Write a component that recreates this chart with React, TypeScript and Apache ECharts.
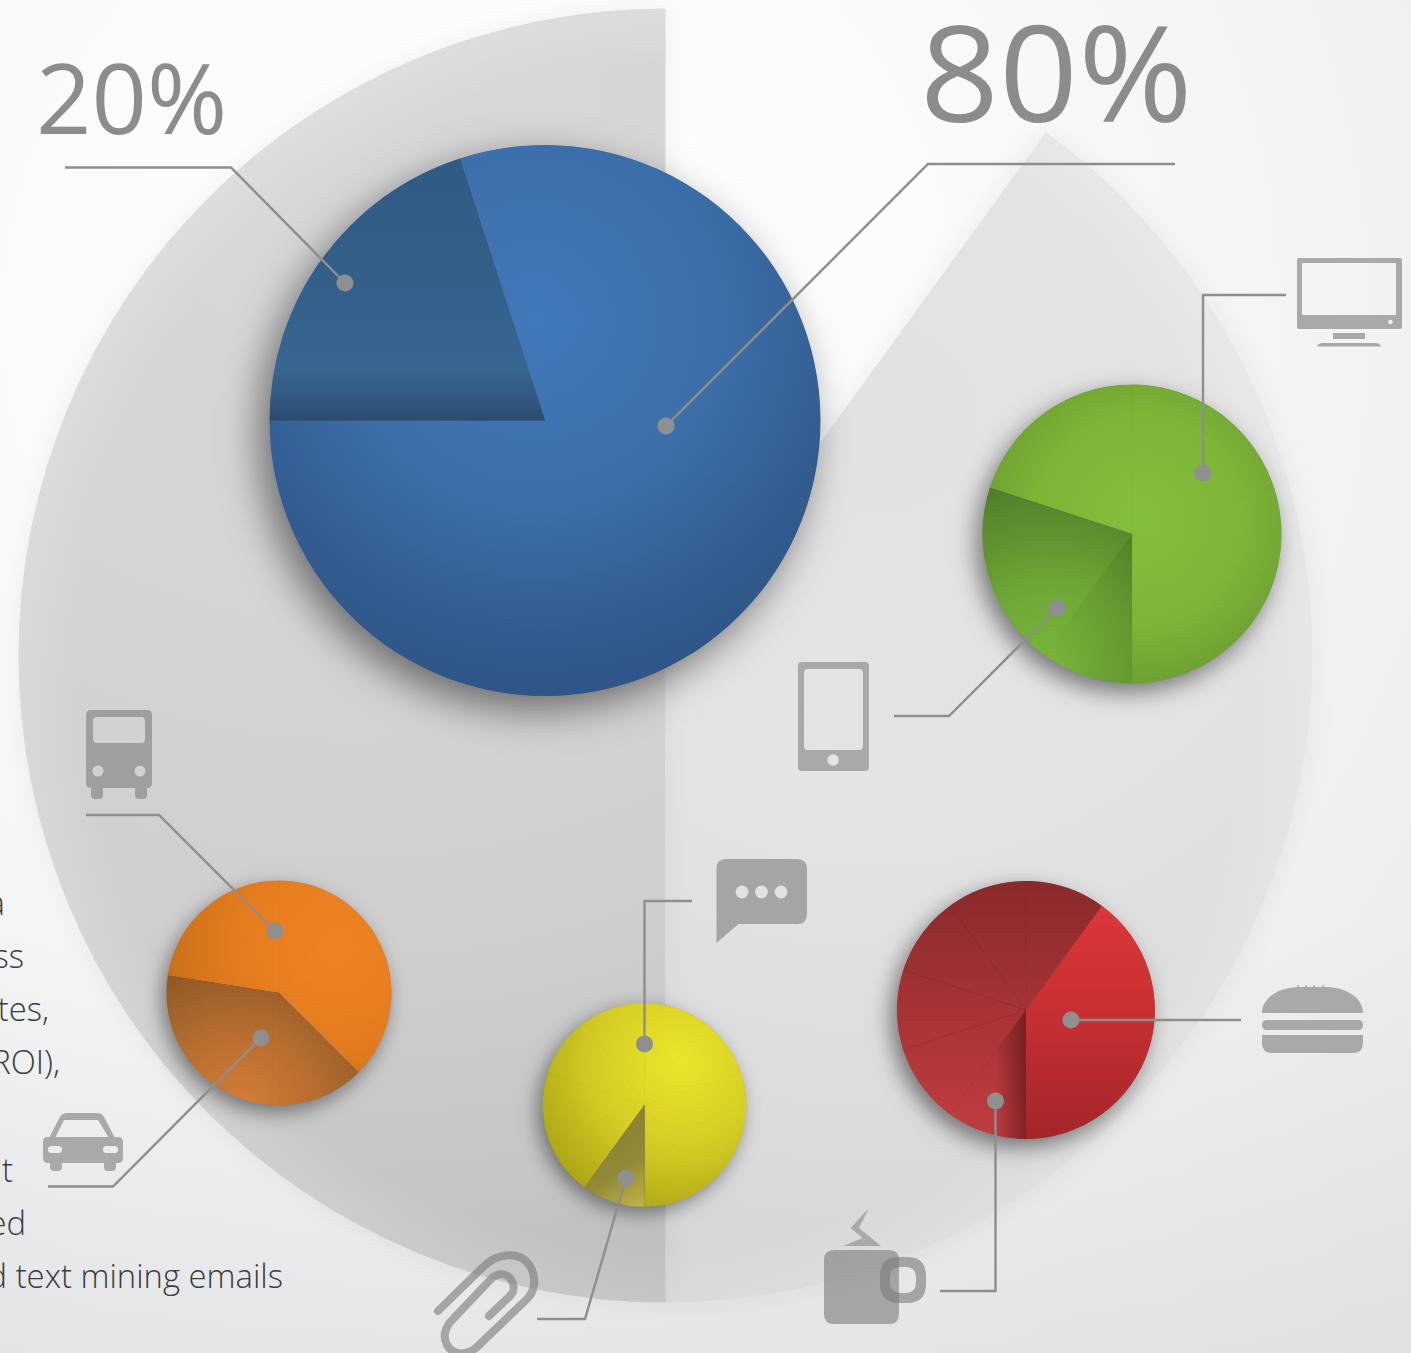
import React, { useEffect, useRef } from "react";
import * as echarts from "echarts";

// Slice values, in percent, for each pie on the page.
const backdropShares = [40, 50, 10];
const channelShares = [80, 20];
const screenShares = [70, 30];
const transportShares = [60, 40];
const messageShares = [90, 10];
const mealShares = [40, 60];
const spokeShares = [1, 1, 1, 1, 1, 1, 1, 1, 1, 1];

const headlineLabels = ["20%", "80%"];
const noteLines = ["a", "ss", "tes,", "ROI),", "nt", "ed", "d text mining emails"];

const WIDTH = 1411;
const HEIGHT = 1353;
const LEADER = "#8e8e8e";
const ICON = "#a9a9a9";
const FONT = '"Open Sans", sans-serif';

const radial = (x: number, y: number, r: number, stops: [number, string][]) =>
  new echarts.graphic.RadialGradient(
    x,
    y,
    r,
    stops.map(([offset, color]) => ({ offset, color })),
    true
  );

const linear = (x1: number, y1: number, x2: number, y2: number, stops: [number, string][]) =>
  new echarts.graphic.LinearGradient(
    x1,
    y1,
    x2,
    y2,
    stops.map(([offset, color]) => ({ offset, color })),
    true
  );

// Rounded rectangle outline; reversed winding punches a hole in a compound shape.
const box = (x: number, y: number, w: number, h: number, r: number, hole = false) => {
  const X = x + w;
  const Y = y + h;
  return hole
    ? `M${x + r} ${y}Q${x} ${y} ${x} ${y + r}L${x} ${Y - r}Q${x} ${Y} ${x + r} ${Y}L${X - r} ${Y}Q${X} ${Y} ${X} ${Y - r}L${X} ${y + r}Q${X} ${y} ${X - r} ${y}Z`
    : `M${x + r} ${y}L${X - r} ${y}Q${X} ${y} ${X} ${y + r}L${X} ${Y - r}Q${X} ${Y} ${X - r} ${Y}L${x + r} ${Y}Q${x} ${Y} ${x} ${Y - r}L${x} ${y + r}Q${x} ${y} ${x + r} ${y}Z`;
};

// Small disc cut out of a compound shape, wound against the outer outline.
const dot = (cx: number, cy: number, r: number) =>
  `M${cx} ${cy - r}A${r} ${r} 0 1 0 ${cx} ${cy + r}A${r} ${r} 0 1 0 ${cx} ${cy - r}Z`;

const iconPaths: Record<string, string> = {
  iconMonitor:
    box(1297, 258, 105, 71, 2) +
    box(1302, 263, 94, 52, 1, true) +
    dot(1390.5, 322, 2.3) +
    box(1333, 333, 32, 6, 0) +
    "M1317 346.5Q1318 343 1323 343L1375 343Q1380 343 1381 346.5Z",
  iconPhone: box(798, 662, 71, 109, 4) + box(804, 669, 59, 81, 4, true) + dot(833, 760, 5.8),
  iconBus:
    box(86, 710, 66, 78, 5) +
    box(93, 717, 52, 26, 4, true) +
    dot(98, 771, 5.5) +
    dot(140, 771, 5.5) +
    box(91, 786, 12, 13, 4) +
    box(135, 786, 12, 13, 4),
  iconCar:
    box(43, 1137, 80, 26, 5) +
    box(48, 1146, 14, 7, 3.5, true) +
    box(103, 1146, 15, 7, 3.5, true) +
    box(50, 1160, 12, 11, 4) +
    box(104, 1160, 12, 11, 4) +
    "M49 1138L60 1117Q62 1113 67 1113L97 1113Q102 1113 104 1117L115 1138L109 1138L98 1120L64 1120L55 1138Z",
  iconChat:
    "M726 859L797 859Q807 859 807 869L807 914Q807 924 797 924L738.5 924L716.5 943L716.5 869Q716.5 859 726 859Z" +
    dot(742, 892, 6.4) +
    dot(761.5, 892, 6.4) +
    dot(781, 892, 6.4),
  iconBurger:
    "M1262 1013C1262 997 1280 987 1300 987L1325 987C1345 987 1363 997 1363 1013Z" +
    box(1297, 985.5, 2, 2, 0) +
    box(1305, 985.5, 2, 2, 0) +
    box(1313, 985.5, 2, 2, 0) +
    box(1322, 985.5, 2, 2, 0) +
    box(1262, 1020, 101, 10, 5) +
    "M1262 1035L1363 1035L1363 1043Q1363 1053 1353 1053L1272 1053Q1262 1053 1262 1043Z",
  iconClip:
    "M438 1311L483 1267C497 1253 520 1250 530 1266C537 1278 535 1291 527 1299L478 1346C468 1356 453 1356 447 1345C442 1335 446 1326 453 1319L491 1279C498 1272 508 1273 512 1281C515 1288 514 1292 510 1296L489 1316",
  iconMugBody: box(824, 1250, 75, 74, 10),
  iconMugHandle: box(880, 1257, 46, 46, 19) + box(890, 1267, 26, 26, 11, true),
  iconSteam: "M869 1208L850.5 1228L862.5 1238L843 1246L881 1246L859 1228Z",
};

Object.entries(iconPaths).forEach(([name, d]) => {
  echarts.graphic.registerShape(name, echarts.graphic.extendPath(d, {}));
});

const baseSeries = {
  type: "pie",
  silent: true,
  animation: false,
  avoidLabelOverlap: false,
  label: { show: false },
  labelLine: { show: false },
  emphasis: { disabled: true },
};

type PieSpec = {
  name: string;
  center: [number, number];
  radius: number;
  startAngle: number;
  shares: number[];
  fills: unknown[];
  shadow: { blur: number; dx: number; dy: number; alpha: number };
  spokeTint?: Record<number, unknown>;
  spokeColor: string;
  spokeSlices?: number[];
};

// One coloured pie: a soft-shadowed disc underneath, the slices, then faint spokes every tenth.
const pieLayers = (p: PieSpec) => [
  {
    ...baseSeries,
    name: `${p.name} shadow`,
    center: p.center,
    radius: p.radius - 0.5,
    data: [
      {
        value: 100,
        itemStyle: {
          color: "#555",
          shadowBlur: p.shadow.blur,
          shadowColor: `rgba(0,0,0,${p.shadow.alpha})`,
          shadowOffsetX: p.shadow.dx,
          shadowOffsetY: p.shadow.dy,
        },
      },
    ],
  },
  {
    ...baseSeries,
    name: p.name,
    center: p.center,
    radius: p.radius,
    startAngle: p.startAngle,
    data: p.shares.map((value, i) => ({ value, itemStyle: { color: p.fills[i] } })),
  },
  {
    ...baseSeries,
    name: `${p.name} spokes`,
    center: p.center,
    radius: p.radius,
    startAngle: 90,
    data: spokeShares.map((value, i) => {
      const drawn = !p.spokeSlices || p.spokeSlices.includes(i);
      return {
        value,
        itemStyle: {
          color: p.spokeTint?.[i] ?? "rgba(0,0,0,0)",
          borderColor: drawn ? p.spokeColor : "rgba(0,0,0,0)",
          borderWidth: drawn ? 0.6 : 0,
        },
      };
    }),
  },
];

const leaders: { points: [number, number][]; end: [number, number] }[] = [
  { points: [[65, 167.5], [231, 167.5], [345, 283]], end: [345, 283] },
  { points: [[1175, 164], [928, 164], [666, 426]], end: [666, 426] },
  { points: [[1286, 295], [1203, 295], [1203, 473]], end: [1203, 473] },
  { points: [[894, 716], [949, 716], [1057, 608]], end: [1057, 608] },
  { points: [[86, 815], [159, 815], [275, 931]], end: [275, 931] },
  { points: [[48, 1186.5], [113, 1186.5], [261, 1038]], end: [261, 1038] },
  { points: [[692, 901], [644.5, 901], [644.5, 1044]], end: [644.5, 1044] },
  { points: [[537, 1319], [585, 1319], [626, 1178]], end: [626, 1178] },
  { points: [[1241, 1020], [1071, 1020]], end: [1071, 1020] },
  { points: [[940, 1291], [995.5, 1291], [995.5, 1101]], end: [995.5, 1101] },
];

const noteBaselines = [919, 972, 1025, 1078, 1186, 1239, 1292];
const noteRights = [5, 24, 49, 60, 13, 26, 283];

function buildOption() {
  const series = [
    // Large grey backdrop pie behind everything else.
    {
      ...baseSeries,
      name: "Backdrop",
      center: [665.5, 655.5],
      radius: 647,
      startAngle: 54,
      data: [
        {
          value: backdropShares[0],
          itemStyle: {
            color: radial(880, 420, 960, [
              [0, "#e2e2e2"],
              [0.4, "#e4e4e4"],
              [0.7, "#dddddd"],
              [0.9, "#d5d6d7"],
              [1, "#d0d0d0"],
            ]),
            shadowBlur: 26,
            shadowColor: "rgba(0,0,0,0.06)",
          },
        },
        {
          value: backdropShares[1],
          itemStyle: {
            color: radial(350, 100, 1240, [
              [0, "#d8d8d8"],
              [0.4, "#d5d5d5"],
              [0.68, "#cfcfcf"],
              [0.89, "#c5c5c5"],
              [1, "#bbbbbb"],
            ]),
            shadowBlur: 22,
            shadowColor: "rgba(0,0,0,0.05)",
          },
        },
        { value: backdropShares[2], itemStyle: { color: "rgba(0,0,0,0)" } },
      ],
    },
    // Lighter rim along the backdrop's outer edge.
    {
      ...baseSeries,
      name: "Backdrop rim",
      center: [665.5, 655.5],
      radius: [590, 647],
      startAngle: 54,
      data: [
        {
          value: backdropShares[0],
          itemStyle: {
            color: radial(665.5, 655.5, 647, [
              [0.91, "rgba(255,255,255,0)"],
              [1, "rgba(255,255,255,0.16)"],
            ]),
          },
        },
        {
          value: backdropShares[1],
          itemStyle: {
            color: radial(665.5, 655.5, 647, [
              [0.91, "rgba(255,255,255,0)"],
              [1, "rgba(255,255,255,0.16)"],
            ]),
          },
        },
        { value: backdropShares[2], itemStyle: { color: "rgba(0,0,0,0)" } },
      ],
    },
    ...pieLayers({
      name: "Channels",
      center: [545, 420.5],
      radius: 275.5,
      startAngle: 108,
      shares: channelShares,
      fills: [
        radial(535, 320, 420, [
          [0, "#4279bb"],
          [0.45, "#3c6ea9"],
          [0.78, "#315a8d"],
          [1, "#2b5182"],
        ]),
        linear(0, 160, 0, 421, [
          [0, "#2f5a83"],
          [0.55, "#34618b"],
          [0.8, "#396690"],
          [0.92, "#31577f"],
          [1, "#2b4b6f"],
        ]),
      ],
      shadow: { blur: 40, dx: -10, dy: 14, alpha: 0.5 },
      spokeColor: "rgba(255,255,255,0.02)",
    }),
    ...pieLayers({
      name: "Screens",
      center: [1132, 534],
      radius: 149.5,
      startAngle: 162,
      shares: screenShares,
      fills: [
        radial(1140, 520, 175, [
          [0, "#84bf3b"],
          [0.6, "#7db537"],
          [1, "#6c9b31"],
        ]),
        radial(1050, 675, 200, [
          [0, "#7ab73b"],
          [0.45, "#6ea736"],
          [1, "#517b29"],
        ]),
      ],
      shadow: { blur: 24, dx: -6, dy: 9, alpha: 0.5 },
      spokeColor: "rgba(0,0,0,0.02)",
      spokeTint: {
        5: linear(1050, 0, 1132, 0, [
          [0, "rgba(50,80,20,0)"],
          [1, "rgba(50,80,20,0.18)"],
        ]),
      },
    }),
    ...pieLayers({
      name: "Transport",
      center: [279, 993],
      radius: 112.5,
      startAngle: 171,
      shares: transportShares,
      fills: [
        radial(335, 945, 200, [
          [0, "#ef8322"],
          [0.5, "#e47c1f"],
          [1, "#bf6a18"],
        ]),
        radial(240, 1108, 150, [
          [0, "#d47d38"],
          [0.5, "#b86e30"],
          [1, "#8e5925"],
        ]),
      ],
      shadow: { blur: 20, dx: -4, dy: 7, alpha: 0.45 },
      spokeColor: "rgba(0,0,0,0.022)",
    }),
    ...pieLayers({
      name: "Messages",
      center: [644.5, 1105],
      radius: 102,
      startAngle: 234,
      shares: messageShares,
      fills: [
        radial(680, 1062, 175, [
          [0, "#ece62a"],
          [0.5, "#d4cc24"],
          [1, "#a39c14"],
        ]),
        linear(600, 1140, 644, 1207, [
          [0, "#8d8433"],
          [0.45, "#918838"],
          [1, "#c2b644"],
        ]),
      ],
      shadow: { blur: 20, dx: -5, dy: 6, alpha: 0.45 },
      spokeColor: "rgba(0,0,0,0.022)",
    }),
    ...pieLayers({
      name: "Meals",
      center: [1026, 1010],
      radius: 129,
      startAngle: 54,
      shares: mealShares,
      fills: [
        linear(0, 895, 0, 1140, [
          [0, "#dd3839"],
          [0.5, "#c62f32"],
          [1, "#a2262a"],
        ]),
        linear(0, 881, 0, 1120, [
          [0, "#8a2a2c"],
          [0.5, "#a53234"],
          [1, "#bd3c3f"],
        ]),
      ],
      shadow: { blur: 22, dx: -6, dy: 8, alpha: 0.5 },
      spokeColor: "rgba(70,20,20,0.12)",
      spokeSlices: [6, 7, 8, 9],
      spokeTint: {
        5: linear(995, 0, 1026, 0, [
          [0, "rgba(70,15,20,0)"],
          [1, "rgba(70,15,20,0.55)"],
        ]),
      },
    }),
  ];

  const shape = (type: string, style: object) => ({ type, z: 20, silent: true, style });
  const graphicElements: object[] = [
    shape("iconMonitor", { fill: ICON }),
    shape("iconPhone", { fill: ICON }),
    shape("iconBus", { fill: "#9f9f9f" }),
    shape("iconCar", { fill: ICON }),
    shape("iconChat", { fill: "#a5a5a5" }),
    shape("iconBurger", { fill: ICON }),
    shape("iconClip", {
      fill: "none",
      stroke: "rgba(125,125,125,0.62)",
      lineWidth: 8,
      lineCap: "round",
      lineJoin: "round",
    }),
    shape("iconMugBody", { fill: "rgba(125,125,125,0.62)" }),
    shape("iconMugHandle", { fill: "rgba(125,125,125,0.62)" }),
    shape("iconSteam", { fill: ICON }),
  ];

  leaders.forEach(({ points, end }) => {
    graphicElements.push({
      type: "polyline",
      z: 30,
      silent: true,
      shape: { points },
      style: { stroke: LEADER, lineWidth: 2.4, fill: "none" },
    });
    graphicElements.push({
      type: "circle",
      z: 31,
      silent: true,
      shape: { cx: end[0], cy: end[1], r: 8.5 },
      style: { fill: "#8f8f90" },
    });
  });

  graphicElements.push(
    {
      type: "text",
      z: 40,
      silent: true,
      x: 36,
      y: 144,
      style: {
        text: headlineLabels[0],
        fill: "#8c8c8c",
        fontFamily: FONT,
        fontSize: 97,
        textAlign: "left",
        textVerticalAlign: "bottom",
      },
    },
    {
      type: "text",
      z: 40,
      silent: true,
      x: 920,
      y: 137,
      scaleX: 1.04,
      style: {
        text: headlineLabels[1],
        fill: "#8c8c8c",
        fontFamily: FONT,
        fontSize: 133,
        textAlign: "left",
        textVerticalAlign: "bottom",
      },
    }
  );

  noteLines.forEach((text, i) => {
    graphicElements.push({
      type: "text",
      z: 40,
      silent: true,
      style: {
        x: noteRights[i],
        y: noteBaselines[i],
        text,
        fill: "#3d3d3f",
        fontFamily: FONT,
        fontWeight: 300,
        fontSize: 32.8,
        textAlign: "right",
        textVerticalAlign: "bottom",
      },
    });
  });

  return {
    animation: false,
    series,
    graphic: { elements: graphicElements },
  };
}

export default function App() {
  const host = useRef<HTMLDivElement>(null);

  useEffect(() => {
    document.body.style.margin = "0";
    const chart = echarts.init(host.current as HTMLDivElement, undefined, {
      renderer: "svg",
      width: WIDTH,
      height: HEIGHT,
    });
    chart.setOption(buildOption() as echarts.EChartsOption);
    return () => chart.dispose();
  }, []);

  return (
    <div
      ref={host}
      style={{
        width: WIDTH,
        height: HEIGHT,
        overflow: "hidden",
        background:
          "linear-gradient(180deg, rgba(205,206,210,0) 68%, rgba(205,206,210,0.28) 100%), radial-gradient(circle 1500px at 480px 320px, #ffffff 0%, #fbfbfb 30%, #f3f4f4 55%, #ecedee 75%, #e5e6e7 100%)",
      }}
    />
  );
}
